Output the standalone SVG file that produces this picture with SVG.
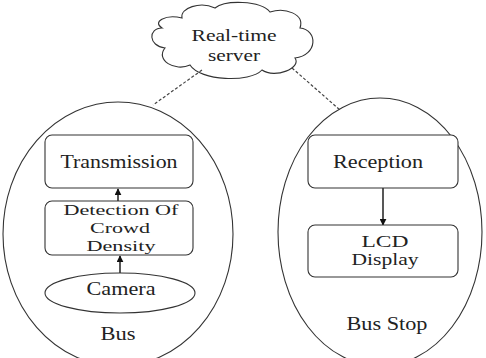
<svg xmlns="http://www.w3.org/2000/svg" width="486" height="358" viewBox="0 0 486 358">
<defs>
<style>
.s{fill:none;stroke:#333;stroke-width:1.1}
.b{fill:#fff;stroke:#333;stroke-width:1.1}
.d{fill:none;stroke:#444;stroke-width:1.2;stroke-dasharray:3,2}
.a{fill:none;stroke:#111;stroke-width:1.4}
text{font-family:"Liberation Serif","Times New Roman",serif;font-size:18px;fill:#222;text-anchor:middle}
.t15{font-size:15px}
.t16{font-size:16px}
</style>
<marker id="ah" viewBox="0 0 10 10" refX="9" refY="5" markerWidth="7" markerHeight="7" orient="auto" markerUnits="userSpaceOnUse">
<path d="M0,0 L10,5 L0,10 z" fill="#111"/>
</marker>
</defs>
<rect width="486" height="358" fill="#fff"/>
<g id="bus">
<ellipse class="s" cx="118" cy="234" rx="115" ry="132"/>
<text x="118" y="340" textLength="35" lengthAdjust="spacingAndGlyphs">Bus</text>
</g>
<g id="busstop">
<ellipse class="s" cx="380" cy="232" rx="102" ry="134"/>
<text x="387" y="330" textLength="81" lengthAdjust="spacingAndGlyphs">Bus Stop</text>
</g>
<g id="server">
<path class="b" d="M162,28 C148,28 148,46 165,48 C155,60 175,72 190,65 C200,81 250,83 262,70 C275,79 302,68 295,58 C318,55 318,30 300,28 C305,14 285,7 270,12 C260,0 225,0 215,8 C200,1 180,8 182,18 C165,14 152,22 162,28 Z"/>
<text class="t16" x="234" y="41" textLength="85" lengthAdjust="spacingAndGlyphs">Real-time</text>
<text class="t16" x="234" y="61" textLength="52" lengthAdjust="spacingAndGlyphs">server</text>
</g>
<g id="connectors">
<line class="d" x1="202" y1="70" x2="153" y2="105"/>
<line class="d" x1="292" y1="68" x2="340" y2="110"/>
<line class="a" x1="118" y1="201" x2="118" y2="189" marker-end="url(#ah)"/>
<line class="a" x1="120" y1="273" x2="120" y2="256" marker-end="url(#ah)"/>
<line class="a" x1="383" y1="188" x2="383" y2="225" marker-end="url(#ah)"/>
</g>
<g id="transmission">
<rect class="b" x="45" y="135" width="148" height="53" rx="7"/>
<text x="119" y="168" textLength="117" lengthAdjust="spacingAndGlyphs">Transmission</text>
</g>
<g id="detection">
<rect class="b" x="45" y="201" width="148" height="54" rx="7"/>
<text class="t15" x="121" y="215" textLength="115" lengthAdjust="spacingAndGlyphs">Detection Of</text>
<text class="t15" x="120" y="233" textLength="60" lengthAdjust="spacingAndGlyphs">Crowd</text>
<text class="t15" x="121" y="251" textLength="69" lengthAdjust="spacingAndGlyphs">Density</text>
</g>
<g id="camera">
<ellipse class="b" cx="120" cy="293" rx="75" ry="20"/>
<text x="121" y="295" textLength="69" lengthAdjust="spacingAndGlyphs">Camera</text>
</g>
<g id="reception">
<rect class="b" x="308" y="135" width="150" height="53" rx="7"/>
<text x="378" y="168" textLength="90" lengthAdjust="spacingAndGlyphs">Reception</text>
</g>
<g id="lcd">
<rect class="b" x="308" y="225" width="150" height="52" rx="7"/>
<text class="t16" x="385" y="247" textLength="47" lengthAdjust="spacingAndGlyphs">LCD</text>
<text class="t16" x="385" y="265" textLength="67" lengthAdjust="spacingAndGlyphs">Display</text>
</g>
</svg>
